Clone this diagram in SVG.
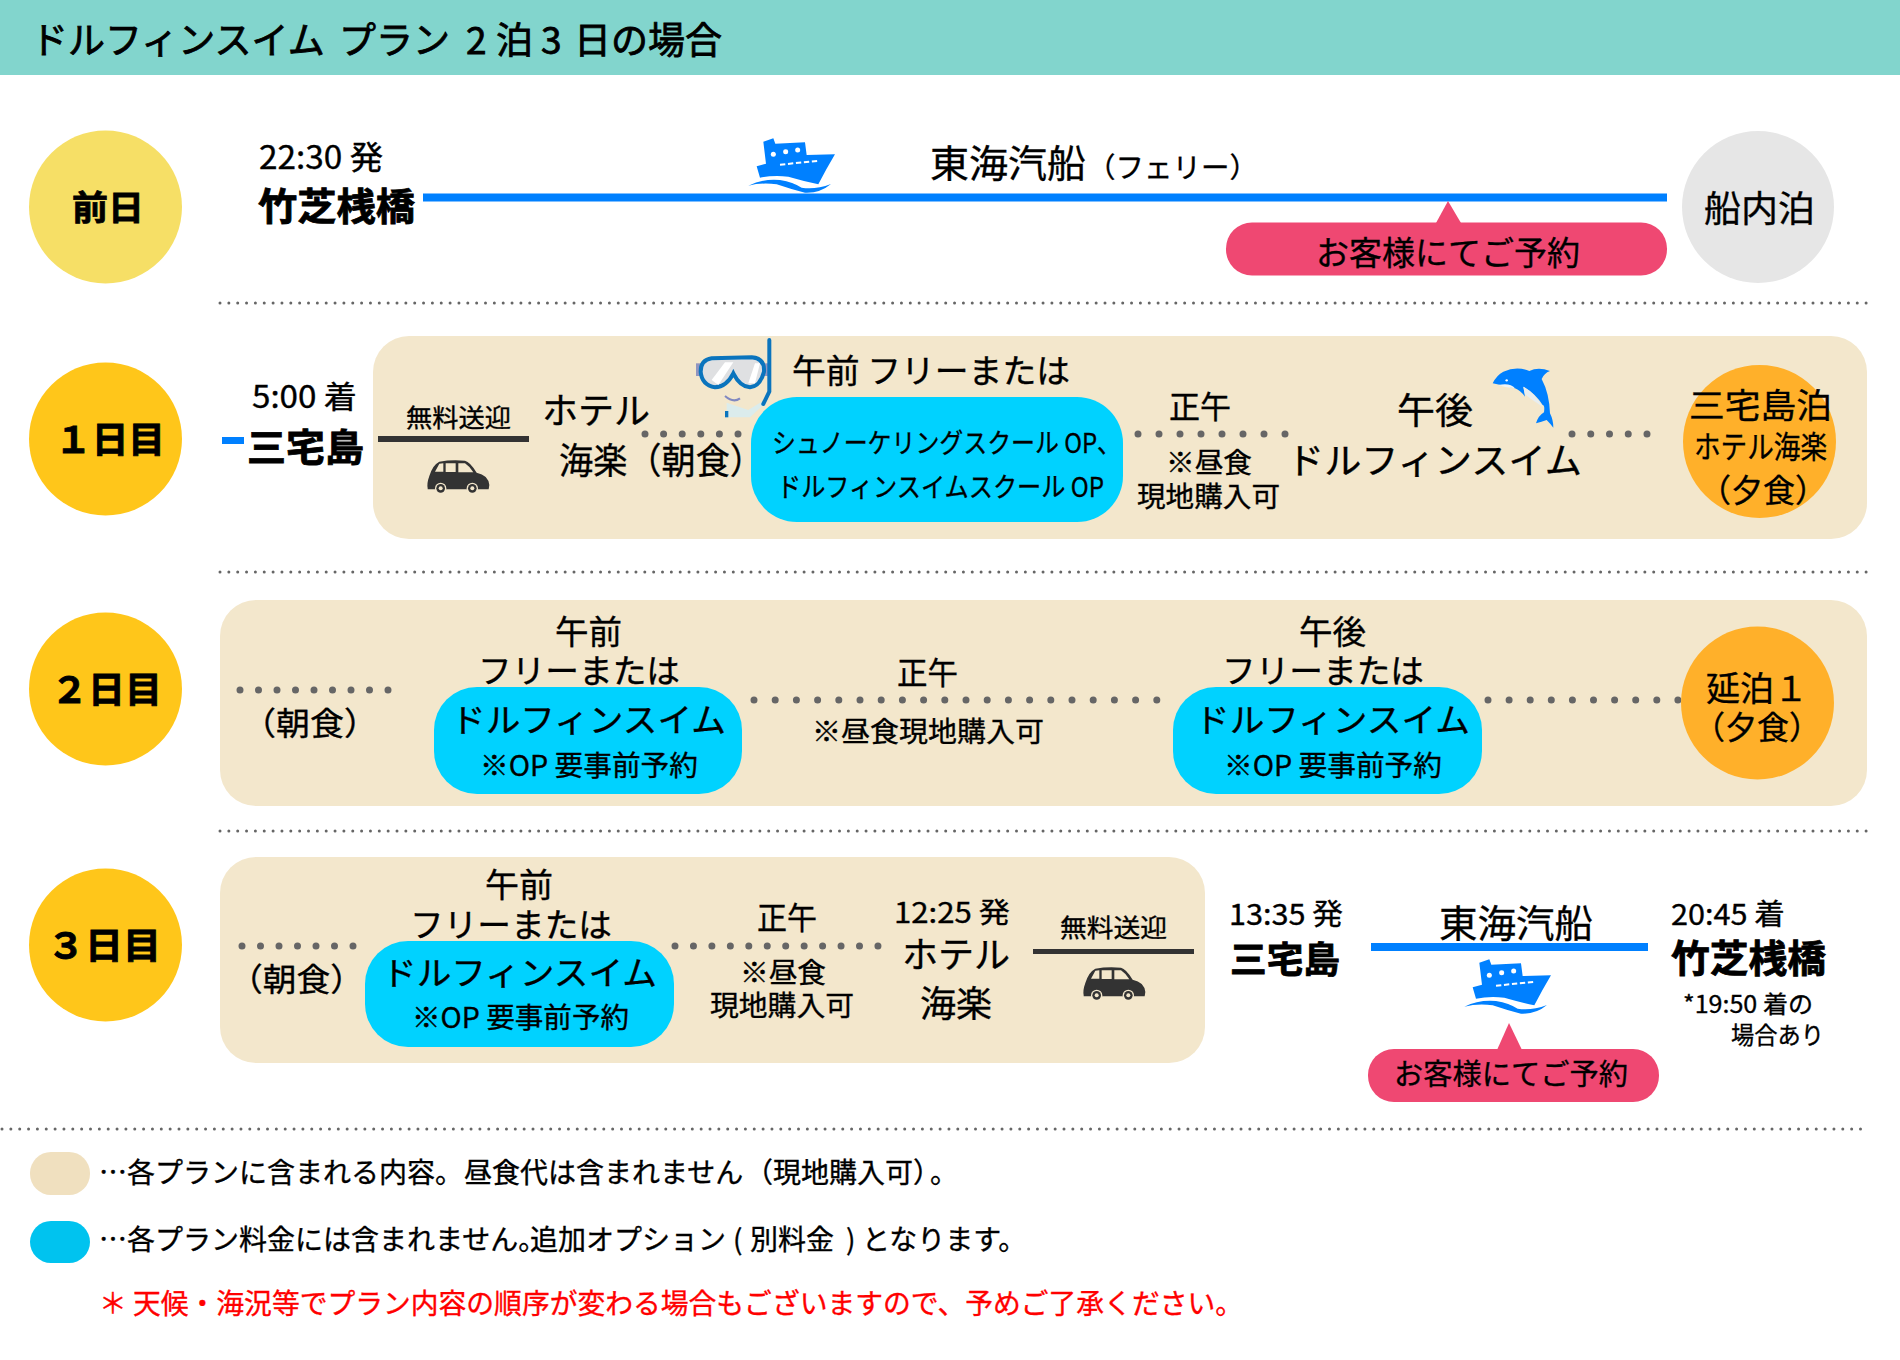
<svg xmlns="http://www.w3.org/2000/svg" xmlns:xlink="http://www.w3.org/1999/xlink" width="1900" height="1360" viewBox="0 0 1900 1360">
<style>
text{font-family:"Noto Sans CJK JP","Noto Sans",sans-serif;fill:#000;stroke:#000;stroke-width:.35;white-space:pre}
.b{font-weight:700;stroke-width:.8}
.m{stroke-width:.8}
.s24{font-size:24px}.s25{font-size:25px}.s27{font-size:27px}.s28{font-size:28px}.s29{font-size:29px}.s31{font-size:31px}.s32{font-size:32px}.s33{font-size:33px}.s34{font-size:34px}.s36{font-size:36px}.s37{font-size:37px}.s38{font-size:38px}
.dot{stroke:#666;stroke-width:7;stroke-linecap:round;fill:none}
.sep{stroke:#666;stroke-width:3;stroke-linecap:round;stroke-dasharray:0 8.85;fill:none}
.panel{fill:#f3e7cc}.cyan{fill:#00d2ff}.pink{fill:#ef4872}.orange{fill:#ffb02a}.blue{fill:#0080ff}.dark{fill:#333}
.red{fill:#f00;stroke:#f00}
</style>
<defs>
<g id="ship"><path class="blue" d="M100 50L130 40L136 56L225 52L230 90L315 88Q290 130 265 178Q220 168 175 155Q130 150 90 158L80 124L108 116Z"/><circle cx="130" cy="88" r="7.5" fill="#fff"/><circle cx="167" cy="80" r="7.5" fill="#fff"/><circle cx="203" cy="75" r="7.5" fill="#fff"/><path d="M150 119L262 108" stroke="#fff" stroke-width="6" stroke-dasharray="16 8" fill="none"/><path class="blue" d="M55 182Q100 160 150 165Q190 172 215 188Q255 195 303 177Q270 205 225 203Q180 192 140 178Q95 172 55 182Z"/></g>
<g id="car"><path class="dark" d="M53 115Q50 100 58 78Q68 45 88 35Q125 28 165 32Q180 35 200 68Q235 75 238 105L236 118L53 118Z"/><path fill="#f3e7cc" d="M75 65L88 41L100 40L100 65ZM107 40L137 40L137 66L107 66ZM145 40L165 40Q180 50 190 67L145 67Z"/><circle cx="92" cy="115" r="17" fill="#f3e7cc"/><circle cx="187" cy="115" r="17" fill="#f3e7cc"/><circle cx="92" cy="115" r="13" fill="#333"/><circle cx="187" cy="115" r="13" fill="#333"/><circle cx="92" cy="115" r="6" fill="#f3e7cc"/><circle cx="187" cy="115" r="6" fill="#f3e7cc"/></g>
</defs>

<g id="header"><rect x="0" y="0" width="1900" height="75" fill="#82d5cd"/><text class="s37 m" y="54"><tspan x="31">ドルフィンスイム </tspan><tspan x="339">プラン </tspan><tspan x="466">2</tspan><tspan x="496">泊</tspan><tspan x="541">3</tspan><tspan x="574">日の場合</tspan></text></g>

<g id="connectors">
<line class="sep" x1="220" y1="303" x2="1870" y2="303"/>
<line class="sep" x1="220" y1="572" x2="1870" y2="572"/>
<line class="sep" x1="220" y1="831" x2="1870" y2="831"/>
<line class="sep" x1="2" y1="1129" x2="1868" y2="1129"/>
<rect class="blue" x="423" y="193.5" width="1244" height="8"/>
<rect class="blue" x="1371" y="943" width="277" height="8"/>
<rect class="blue" x="222" y="437" width="22" height="7"/>
</g>

<g id="panels"><rect class="panel" x="373" y="336" width="1494" height="203" rx="36"/><rect class="panel" x="220" y="600" width="1647" height="206" rx="36"/><rect class="panel" x="220" y="857" width="985" height="206" rx="36"/></g>

<g id="dots">
<line class="dot" x1="645" y1="434" x2="739" y2="434" stroke-dasharray="0 18.6"/>
<line class="dot" x1="1138" y1="434" x2="1286" y2="434" stroke-dasharray="0 21"/>
<line class="dot" x1="1572" y1="434" x2="1648" y2="434" stroke-dasharray="0 18.75"/>
<line class="dot" x1="240" y1="690" x2="389" y2="690" stroke-dasharray="0 18.5"/>
<line class="dot" x1="754" y1="700" x2="1158" y2="700" stroke-dasharray="0 21.2"/>
<line class="dot" x1="1488" y1="700" x2="1679" y2="700" stroke-dasharray="0 21.1"/>
<line class="dot" x1="242" y1="946" x2="354" y2="946" stroke-dasharray="0 18.5"/>
<line class="dot" x1="675" y1="946" x2="879" y2="946" stroke-dasharray="0 18.45"/>
</g>

<g id="day0-circle"><circle cx="105.5" cy="207" r="76.5" fill="#f6df66"/><text class="s34 b" x="72" y="220" textLength="72" lengthAdjust="spacingAndGlyphs">前日</text></g>
<g id="day1-circle"><circle cx="105.5" cy="439" r="76.5" fill="#ffc61a"/><text class="s36 b" x="55" y="453" textLength="110" lengthAdjust="spacingAndGlyphs">１日目</text></g>
<g id="day2-circle"><circle cx="105.5" cy="689" r="76.5" fill="#ffc61a"/><text class="s36 b" x="51" y="703" textLength="111" lengthAdjust="spacingAndGlyphs">２日目</text></g>
<g id="day3-circle"><circle cx="105.5" cy="945" r="76.5" fill="#ffc61a"/><text class="s36 b" x="47" y="959" textLength="114" lengthAdjust="spacingAndGlyphs">３日目</text></g>

<g id="takeshiba-dep"><text class="s32" x="259" y="169" textLength="124" lengthAdjust="spacingAndGlyphs">22:30 発</text><text class="s38 b" x="258" y="220" textLength="157" lengthAdjust="spacingAndGlyphs">竹芝桟橋</text></g>
<g id="ferry"><use xlink:href="#ship" href="#ship" transform="translate(730 125) scale(.3333)"/><text class="s38" x="930" y="177" textLength="156" lengthAdjust="spacingAndGlyphs">東海汽船</text><text class="s28" x="1087" y="178" textLength="171" lengthAdjust="spacingAndGlyphs">（フェリー）</text></g>
<g id="reserve-1"><path class="pink" d="M1448 201L1436 223H1461Z"/><rect class="pink" x="1226" y="222.5" width="441" height="53" rx="26"/><text class="s33" x="1316" y="265" textLength="264" lengthAdjust="spacingAndGlyphs">お客様にてご予約</text></g>
<g id="on-board"><circle cx="1758" cy="207" r="76" fill="#e6e6e6"/><text class="s36" x="1704" y="222" textLength="111" lengthAdjust="spacingAndGlyphs">船内泊</text></g>

<g id="miyake-arr"><text class="s31" x="252" y="408" textLength="105" lengthAdjust="spacingAndGlyphs">5:00 着</text><text class="s38 b" x="247" y="461" textLength="117" lengthAdjust="spacingAndGlyphs">三宅島</text></g>
<g id="transfer-1"><text class="s25" x="406" y="427" textLength="105" lengthAdjust="spacingAndGlyphs">無料送迎</text><rect class="dark" x="378" y="436" width="151" height="6"/><use xlink:href="#car" href="#car" transform="translate(410 450) scale(.3333)"/></g>
<g id="hotel-1"><text class="s36" x="542" y="424" textLength="108" lengthAdjust="spacingAndGlyphs">ホテル</text><text class="s36" x="559" y="474" textLength="205" lengthAdjust="spacingAndGlyphs">海楽（朝食）</text></g>
<g id="mask" transform="translate(680 330) scale(.3333)"><rect x="48" y="100" width="222" height="38" fill="#9095c0"/><path d="M95 85L215 82Q255 85 252 125Q240 170 210 172Q180 170 160 130Q140 170 105 172Q65 165 62 125Q62 90 95 85Z" fill="#dfe0e2" stroke="#0a74bd" stroke-width="12"/><path d="M95 150L135 97L160 97L115 165Z" fill="#fff"/><path d="M205 160L225 100L240 100L225 160Z" fill="#fff"/><path d="M140 218L205 240L245 215L250 225L210 262L140 262Z" fill="#dbecec"/><path d="M135 198Q160 220 180 205" stroke="#8088c0" stroke-width="6" fill="none"/><rect x="135" y="243" width="10" height="19" fill="#0a74bd"/><path d="M268 30V185L250 222" stroke="#0a74bd" stroke-width="12" stroke-linecap="round" fill="none"/></g>
<g id="am-1"><text class="s33" x="792" y="383" textLength="278" lengthAdjust="spacingAndGlyphs">午前 フリーまたは</text><rect class="cyan" x="751" y="397" width="372" height="125" rx="46"/><text class="s27" x="772" y="453" textLength="349" lengthAdjust="spacingAndGlyphs">シュノーケリングスクール OP、</text><text class="s27" x="777" y="497" textLength="327" lengthAdjust="spacingAndGlyphs">ドルフィンスイムスクール OP</text></g>
<g id="noon-1"><text class="s31" x="1169" y="418" textLength="62" lengthAdjust="spacingAndGlyphs">正午</text><text class="s28" x="1166" y="473" textLength="86" lengthAdjust="spacingAndGlyphs">※昼食</text><text class="s28" x="1137" y="507" textLength="143" lengthAdjust="spacingAndGlyphs">現地購入可</text></g>
<g id="pm-1"><text class="s36" x="1397" y="424" textLength="76" lengthAdjust="spacingAndGlyphs">午後</text><text class="s36" x="1287" y="474" textLength="295" lengthAdjust="spacingAndGlyphs">ドルフィンスイム</text>
<g transform="translate(1470 355) scale(.3333)"><path class="blue" d="M68 85Q80 60 100 50Q140 32 178 48Q205 35 240 48Q222 55 215 72Q238 115 240 175Q250 195 250 218Q240 205 230 195Q215 200 198 205Q205 182 222 172Q225 150 218 150Q195 115 160 95L165 125Q150 105 135 100Q100 92 68 85Z"/><path d="M160 95Q195 115 218 155Q185 135 165 118Z" fill="#e8eef0"/><path d="M85 90Q120 82 135 100Q110 100 85 90Z" fill="#f0f4f6"/><circle cx="110" cy="76" r="3.5" fill="#fff"/></g></g>
<g id="stay-1"><circle cx="1759.5" cy="441.5" r="76.5" class="orange"/><text class="s34" x="1689" y="418" textLength="143" lengthAdjust="spacingAndGlyphs">三宅島泊</text><text class="s31" x="1694" y="458" textLength="133" lengthAdjust="spacingAndGlyphs">ホテル海楽</text><text class="s32" x="1699" y="502" textLength="128" lengthAdjust="spacingAndGlyphs">（夕食）</text></g>

<g id="breakfast-2"><text class="s32" x="242" y="735" textLength="136" lengthAdjust="spacingAndGlyphs">（朝食）</text></g>
<g id="am-2"><text class="s33" x="555" y="644" textLength="67" lengthAdjust="spacingAndGlyphs">午前</text><text class="s33" x="478" y="683" textLength="202" lengthAdjust="spacingAndGlyphs">フリーまたは</text><rect class="cyan" x="434" y="687" width="308" height="107" rx="43"/><text class="s33" x="451" y="732" textLength="275" lengthAdjust="spacingAndGlyphs">ドルフィンスイム</text><text class="s28" x="480" y="776" textLength="218" lengthAdjust="spacingAndGlyphs">※OP 要事前予約</text></g>
<g id="noon-2"><text class="s31" x="897" y="684" textLength="61" lengthAdjust="spacingAndGlyphs">正午</text><text class="s28" x="812" y="742" textLength="232" lengthAdjust="spacingAndGlyphs">※昼食現地購入可</text></g>
<g id="pm-2"><text class="s33" x="1299" y="644" textLength="67" lengthAdjust="spacingAndGlyphs">午後</text><text class="s33" x="1222" y="683" textLength="202" lengthAdjust="spacingAndGlyphs">フリーまたは</text><rect class="cyan" x="1173" y="687" width="309" height="107" rx="43"/><text class="s33" x="1195" y="732" textLength="275" lengthAdjust="spacingAndGlyphs">ドルフィンスイム</text><text class="s28" x="1224" y="776" textLength="218" lengthAdjust="spacingAndGlyphs">※OP 要事前予約</text></g>
<g id="stay-2"><circle cx="1757.5" cy="703" r="76.5" class="orange"/><text class="s34" x="1706" y="701" textLength="102" lengthAdjust="spacingAndGlyphs">延泊１</text><text class="s32" x="1693" y="739" textLength="128" lengthAdjust="spacingAndGlyphs">（夕食）</text></g>

<g id="breakfast-3"><text class="s32" x="229" y="991" textLength="135" lengthAdjust="spacingAndGlyphs">（朝食）</text></g>
<g id="am-3"><text class="s33" x="485" y="897" textLength="68" lengthAdjust="spacingAndGlyphs">午前</text><text class="s33" x="410" y="937" textLength="202" lengthAdjust="spacingAndGlyphs">フリーまたは</text><rect class="cyan" x="365" y="941" width="309" height="106" rx="43"/><text class="s33" x="382" y="985" textLength="275" lengthAdjust="spacingAndGlyphs">ドルフィンスイム</text><text class="s28" x="412" y="1028" textLength="217" lengthAdjust="spacingAndGlyphs">※OP 要事前予約</text></g>
<g id="noon-3"><text class="s31" x="757" y="929" textLength="60" lengthAdjust="spacingAndGlyphs">正午</text><text class="s28" x="740" y="983" textLength="86" lengthAdjust="spacingAndGlyphs">※昼食</text><text class="s28" x="710" y="1016" textLength="144" lengthAdjust="spacingAndGlyphs">現地購入可</text></g>
<g id="hotel-3"><text class="s28" x="894" y="923" textLength="116" lengthAdjust="spacingAndGlyphs">12:25 発</text><text class="s36" x="902" y="968" textLength="108" lengthAdjust="spacingAndGlyphs">ホテル</text><text class="s36" x="920" y="1017" textLength="72" lengthAdjust="spacingAndGlyphs">海楽</text></g>
<g id="transfer-3"><text class="s25" x="1060" y="937" textLength="107" lengthAdjust="spacingAndGlyphs">無料送迎</text><rect class="dark" x="1033" y="949" width="161" height="5"/><use xlink:href="#car" href="#car" transform="translate(1066 957) scale(.3333)"/></g>

<g id="miyake-dep"><text class="s29" x="1229" y="925" textLength="114" lengthAdjust="spacingAndGlyphs">13:35 発</text><text class="s36 b" x="1230" y="973" textLength="110" lengthAdjust="spacingAndGlyphs">三宅島</text></g>
<g id="ferry-3"><text class="s38" x="1439" y="937" textLength="154" lengthAdjust="spacingAndGlyphs">東海汽船</text><use xlink:href="#ship" href="#ship" transform="translate(1446 946) scale(.3333)"/></g>
<g id="reserve-3"><path class="pink" d="M1509 1023L1497 1050H1522Z"/><rect class="pink" x="1368" y="1049" width="291" height="53" rx="26"/><text class="s29" x="1394" y="1085" textLength="234" lengthAdjust="spacingAndGlyphs">お客様にてご予約</text></g>
<g id="takeshiba-arr"><text class="s29" x="1671" y="925" textLength="114" lengthAdjust="spacingAndGlyphs">20:45 着</text><text class="s38 b" x="1671" y="972" textLength="155" lengthAdjust="spacingAndGlyphs">竹芝桟橋</text><text class="s24" x="1683" y="1013" textLength="130" lengthAdjust="spacingAndGlyphs">*19:50 着の</text><text class="s24" x="1731" y="1044" textLength="93" lengthAdjust="spacingAndGlyphs">場合あり</text></g>

<g id="legend-1"><rect x="30" y="1152" width="60" height="43" rx="21" fill="#f0e0bf"/><text class="s28" y="1183"><tspan x="99">…各プランに含まれる内容。</tspan><tspan x="464">昼食代は含まれません</tspan><tspan x="745">（現地購入可）</tspan><tspan x="930">。</tspan></text></g>
<g id="legend-2"><rect x="30" y="1221" width="60" height="42" rx="21" fill="#00c3ef"/><text class="s28" y="1250"><tspan x="99">…各プラン料金には含まれません。</tspan><tspan x="530">追加オプション </tspan><tspan x="733">( </tspan><tspan x="750">別料金 </tspan><tspan x="846">) </tspan><tspan x="862">となります。</tspan></text></g>
<g id="note"><text class="s28 red" x="99" y="1314" textLength="1144" lengthAdjust="spacingAndGlyphs">＊ 天候・海況等でプラン内容の順序が変わる場合もございますので、予めご了承ください。</text></g>
</svg>
